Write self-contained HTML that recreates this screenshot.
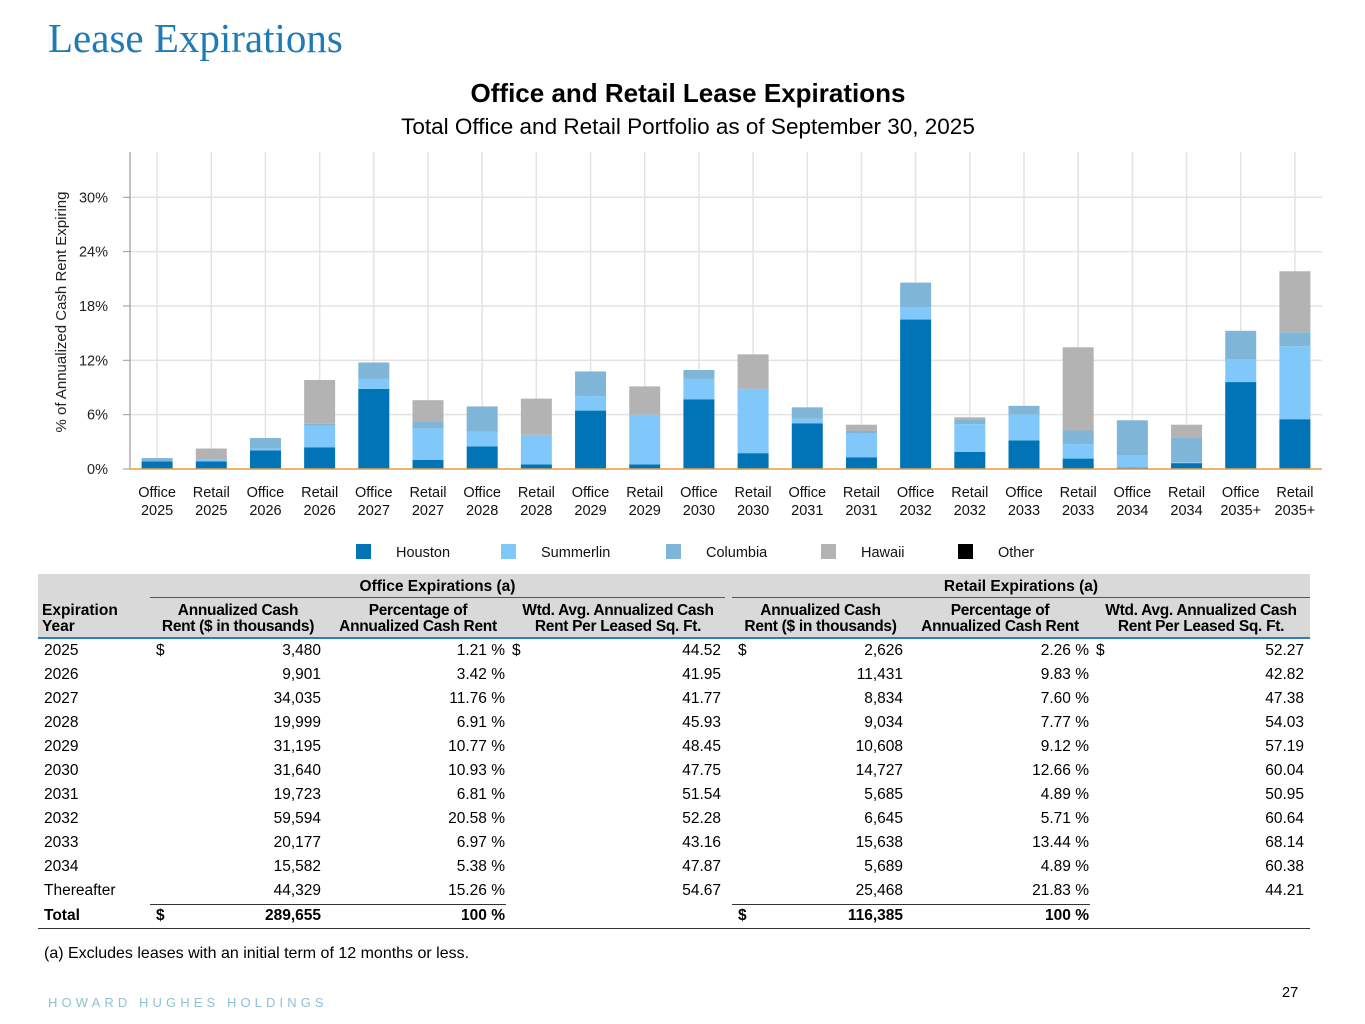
<!DOCTYPE html>
<html><head><meta charset="utf-8">
<style>
html,body{margin:0;padding:0;background:#fff;}
body{width:1365px;height:1024px;position:relative;overflow:hidden;font-family:"Liberation Sans",Arial,sans-serif;color:#000;}
.abs{position:absolute;white-space:nowrap;}
.r{text-align:right;}
.c{text-align:center;}
.cell{position:absolute;font-size:15.5px;line-height:16px;white-space:nowrap;}
.hd{position:absolute;font-size:15.5px;font-weight:bold;line-height:16px;text-align:center;white-space:nowrap;}
</style></head>
<body>
<div class="abs" style="left:48px;top:14px;font-family:'Liberation Serif',serif;font-size:41px;color:#1f7ab8;">Lease Expirations</div>

<svg id="chart" width="1365" height="570" style="position:absolute;left:0;top:0" font-family="Liberation Sans, Arial, sans-serif">
  <text x="688" y="102" text-anchor="middle" font-size="26" font-weight="bold">Office and Retail Lease Expirations</text>
  <text x="688" y="134" text-anchor="middle" font-size="22.5">Total Office and Retail Portfolio as of September 30, 2025</text>
  <text transform="translate(66,312) rotate(-90)" text-anchor="middle" font-size="15" fill="#222">% of Annualized Cash Rent Expiring</text>
  <g id="grid"></g><g id="bars"></g><g id="axes"></g>
</svg>

<div id="table"></div>

<div class="abs" style="left:44px;top:945px;font-size:16px;">(a) Excludes leases with an initial term of 12 months or less.</div>
<div class="abs" style="left:48px;top:995px;font-size:13px;letter-spacing:4.1px;color:#8fc0d8;">HOWARD HUGHES HOLDINGS</div>
<div class="abs" style="left:1282px;top:985px;font-size:14.5px;">27</div>

<script>
const categories = ["Office 2025","Retail 2025","Office 2026","Retail 2026","Office 2027","Retail 2027","Office 2028","Retail 2028","Office 2029","Retail 2029","Office 2030","Retail 2030","Office 2031","Retail 2031","Office 2032","Retail 2032","Office 2033","Retail 2033","Office 2034","Retail 2034","Office 2035+","Retail 2035+"];
const houston   = [0.85,0.85,2.05,2.4,8.85,1.0,2.5,0.5,6.45,0.5,7.7,1.75,5.05,1.3,16.5,1.9,3.15,1.15,0.15,0.65,9.6,5.5];
const summerlin = [0,0.25,0.2,2.4,1.1,3.46,1.6,3.27,1.6,5.5,2.25,7.1,0.5,2.6,1.35,3.05,2.85,1.6,1.35,0.1,2.5,8.05];
const columbia  = [0.36,0,1.17,0.2,1.81,0.79,2.81,0,2.72,0,0.98,0,1.26,0.3,2.73,0.55,0.97,1.5,3.88,2.75,3.16,1.55];
const hawaii    = [0,1.16,0,4.83,0,2.35,0,4.0,0,3.12,0,3.81,0,0.69,0,0.21,0,9.19,0,1.39,0,6.73];
const other     = [0,0,0,0,0,0,0,0,0,0,0,0,0,0,0,0,0,0,0,0,0,0];
const seriesNames = ["Houston","Summerlin","Columbia","Hawaii","Other"];
const seriesColors = ["#0074b7","#80c8fa","#7fb6d8","#b3b3b3","#000000"];
const yTicks = [0,6,12,18,24,30];
const yMax = 35;

const NS="http://www.w3.org/2000/svg";
const plotL=130, plotR=1322, plotT=152, plotB=469;
function yScale(v){return plotB-(v/yMax)*(plotB-plotT);}
const step=(plotR-plotL)/categories.length;
function xCenter(i){return plotL+step*(i+0.5);}
const barW=31;
function mk(tag,attrs,parent){const e=document.createElementNS(NS,tag);for(const k in attrs)e.setAttribute(k,attrs[k]);parent.appendChild(e);return e;}
const grid=document.getElementById('grid'), barsG=document.getElementById('bars'), axes=document.getElementById('axes');
yTicks.forEach(t=>{
  const y=yScale(t);
  const gl=mk('line',{x1:plotL,x2:plotR,y1:y,y2:y,stroke:'#e3e3e3','stroke-width':1.5},grid);
  
  
  const tk=mk('line',{x1:plotL-7,x2:plotL,y1:y,y2:y,stroke:'#999','stroke-width':1},axes);
  
  
  const tl=mk('text',{x:108,y:y+5,'text-anchor':'end','font-size':14.5,fill:'#222'},axes);
  tl.textContent=t+'%';
  
  
});
const series=[houston,summerlin,columbia,hawaii,other];
categories.forEach((c,i)=>{
  const x=xCenter(i);
  const vl=mk('line',{x1:x,x2:x,y1:plotT,y2:plotB,stroke:'#e3e3e3','stroke-width':1.5},grid);
  
  
  let cum=0;
  series.forEach((s,k)=>{
    const v=s[i]; if(v<=0) return;
    const y0=yScale(cum), y1=yScale(cum+v);
    const r=mk('rect',{x:x-barW/2,y:y1,width:barW,height:y0-y1,fill:seriesColors[k]},barsG);
    
    
    cum+=v;
  });
  const parts=c.split(' ');
  const t=mk('text',{x:x,y:497,'text-anchor':'middle','font-size':14.5,fill:'#111'},axes);
  
  
  const a=mk('tspan',{x:x,dy:0},t); a.textContent=parts[0];
  const b=mk('tspan',{x:x,dy:18},t); b.textContent=parts[1];
});
const ax=mk('line',{x1:plotL,x2:plotL,y1:plotT,y2:plotB,stroke:'#999','stroke-width':1.2},axes);


const base=mk('line',{x1:plotL,x2:plotR,y1:plotB,y2:plotB,stroke:'#e8a048','stroke-width':1.5},axes);


const legX=[356,501,666,821,958];
seriesNames.forEach((n,k)=>{
  const g=mk('g',{},axes);
  
  
  mk('rect',{x:legX[k],y:544,width:15,height:15,fill:seriesColors[k]},g);
  const t=mk('text',{x:legX[k]+40,y:557,'font-size':14.5,fill:'#111'},g); t.textContent=n;
});

// Table
const years=["2025","2026","2027","2028","2029","2030","2031","2032","2033","2034","Thereafter"];
const officeRent=["3,480","9,901","34,035","19,999","31,195","31,640","19,723","59,594","20,177","15,582","44,329"];
const officePct=["1.21","3.42","11.76","6.91","10.77","10.93","6.81","20.58","6.97","5.38","15.26"];
const officeAvg=["44.52","41.95","41.77","45.93","48.45","47.75","51.54","52.28","43.16","47.87","54.67"];
const retailRent=["2,626","11,431","8,834","9,034","10,608","14,727","5,685","6,645","15,638","5,689","25,468"];
const retailPct=["2.26","9.83","7.60","7.77","9.12","12.66","4.89","5.71","13.44","4.89","21.83"];
const retailAvg=["52.27","42.82","47.38","54.03","57.19","60.04","50.95","60.64","68.14","60.38","44.21"];

const tb=document.getElementById('table');
function div(cls,style,text,name){const d=document.createElement('div');d.className=cls;d.setAttribute('style',style);d.textContent=text;tb.appendChild(d);return d;}
div('abs','left:38px;top:574px;width:1272px;height:64px;background:#d9d9d9;','', 'table-header-background');
div('abs','left:38px;top:637px;width:1272px;height:2px;background:#2c7fb8;','', 'table-header-rule');
div('hd','left:150px;top:579px;width:575px;','Office Expirations (a)','office-group-header');
div('hd','left:732px;top:579px;width:578px;','Retail Expirations (a)','retail-group-header');
div('abs','left:150px;top:597px;width:575px;height:1px;background:#555;','', 'office-group-rule');
div('abs','left:732px;top:597px;width:578px;height:1px;background:#555;','', 'retail-group-rule');
div('hd','left:42px;top:603px;text-align:left;','Expiration\nYear','year-header').style.whiteSpace='pre';
const hdrs=[[150,326,'Annualized Cash\nRent ($ in thousands)'],[326,510,'Percentage of\nAnnualized Cash Rent'],[510,726,'Wtd. Avg. Annualized Cash\nRent Per Leased Sq. Ft.'],[733,908,'Annualized Cash\nRent ($ in thousands)'],[908,1092,'Percentage of\nAnnualized Cash Rent'],[1092,1310,'Wtd. Avg. Annualized Cash\nRent Per Leased Sq. Ft.']];
hdrs.forEach(h=>{const d=div('hd','left:'+h[0]+'px;top:603px;width:'+(h[1]-h[0])+'px;white-space:pre;letter-spacing:-0.3px;',h[2],'column-header');});
function rowCells(y,vals,bold,nm){
  const fw=bold?'font-weight:bold;':'';
  div('cell',fw+'left:44px;top:'+y+'px;',vals[0],nm+'-year');
  if(vals[1]) div('cell',fw+'left:156px;top:'+y+'px;','$',nm+'-dollar');
  div('cell r',fw+'left:200px;width:121px;top:'+y+'px;',vals[2],nm+'-office-rent');
  div('cell r',fw+'left:380px;width:125px;top:'+y+'px;',vals[3],nm+'-office-pct');
  if(vals[4]) div('cell',fw+'left:512px;top:'+y+'px;','$',nm+'-dollar');
  div('cell r',fw+'left:600px;width:121px;top:'+y+'px;',vals[5],nm+'-office-avg');
  if(vals[1]) div('cell',fw+'left:738px;top:'+y+'px;','$',nm+'-dollar');
  div('cell r',fw+'left:780px;width:123px;top:'+y+'px;',vals[6],nm+'-retail-rent');
  div('cell r',fw+'left:960px;width:129px;top:'+y+'px;',vals[7],nm+'-retail-pct');
  if(vals[4]) div('cell',fw+'left:1096px;top:'+y+'px;','$',nm+'-dollar');
  div('cell r',fw+'left:1180px;width:124px;top:'+y+'px;',vals[8],nm+'-retail-avg');
}
years.forEach((yr,i)=>{
  const y=643+i*24;
  rowCells(y,[yr,i===0,officeRent[i],officePct[i]+' %',i===0,officeAvg[i],retailRent[i],retailPct[i]+' %',retailAvg[i]],false,'row-'+yr.toLowerCase());
});
div('abs','left:150px;top:904px;width:356px;height:1px;background:#333;','','total-rule-office');
div('abs','left:732px;top:904px;width:358px;height:1px;background:#333;','','total-rule-retail');
rowCells(908,['Total',true,'289,655','100 %',false,'','116,385','100 %',''],true,'row-total');
div('abs','left:38px;top:928px;width:1272px;height:1px;background:#333;','','table-bottom-rule');
</script>
</body></html>
